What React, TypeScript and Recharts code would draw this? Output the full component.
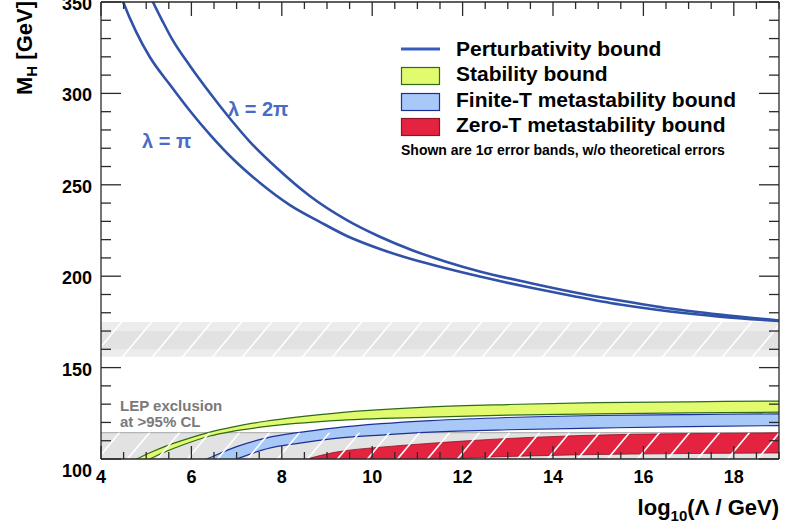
import React from 'react';
import { ComposedChart, Line, Area, XAxis, YAxis, Legend, Customized } from 'recharts';

// ---------- axis ticks ----------
const xTicks = [4, 4.5, 5, 5.5, 6, 6.5, 7, 7.5, 8, 8.5, 9, 9.5, 10, 10.5, 11, 11.5, 12, 12.5, 13, 13.5, 14, 14.5, 15, 15.5, 16, 16.5, 17, 17.5, 18, 18.5, 19];
const xMajor = [4, 6, 8, 10, 12, 14, 16, 18];
const yTicks = [100, 110, 120, 130, 140, 150, 160, 170, 180, 190, 200, 210, 220, 230, 240, 250, 260, 270, 280, 290, 300, 310, 320, 330, 340, 350];
const yMajor = [100, 150, 200, 250, 300, 350];

// ---------- perturbativity bounds ----------
const piX = [4.4, 4.49, 4.77, 5.08, 5.53, 5.97, 6.42, 6.92, 7.52, 8.18, 8.85, 9.44, 10.17, 10.9, 11.65, 12.38, 13.49, 14.49, 15.48, 16.59, 17.69, 19];
const piM = [356, 350, 334.1, 319.9, 304.6, 290.4, 277.2, 264.1, 251, 238.9, 229.6, 222, 214.9, 209.1, 204.2, 199.8, 193.8, 188.9, 184.5, 180.7, 177.9, 175.5];
const twoPiX = [5.05, 5.15, 5.37, 5.57, 5.97, 6.41, 6.79, 7.3, 7.89, 8.62, 9.44, 10.17, 10.9, 11.65, 12.38, 13.49, 14.49, 15.48, 16.59, 17.69, 19];
const twoPiM = [355.5, 350, 339.1, 329.8, 315, 300.2, 288.2, 273.4, 259.2, 243.9, 230.7, 221.6, 214.1, 207.8, 202.6, 196.3, 191.1, 186.7, 182.3, 179, 175.8];

// ---------- stability bound (1 sigma band) ----------
const stabX = [4.6, 4.79, 5.08, 5.45, 5.82, 6.41, 6.93, 7.67, 9.14, 11.3, 13, 14.97, 17, 19];
const stabHigh = [98, 100, 103.4, 107.2, 110.3, 114.7, 117.6, 120.8, 125, 128.5, 129.8, 130.8, 131.3, 131.7];
const stabLow = [94, 96.5, 100, 104.2, 107.8, 112.6, 115.2, 117.8, 121, 122.9, 124, 124.7, 125.2, 125.6];

// ---------- finite-T metastability bound ----------
const finX = [6.1, 6.34, 7, 7.67, 8.4, 9.14, 10.2, 11.3, 13, 14.97, 17, 19];
const finHigh = [97.5, 100, 106.8, 111.6, 114.6, 116.9, 119.3, 121, 122.7, 123.8, 124.3, 124.7];
const finLow = [91, 93.5, 100, 105.6, 108.7, 111.1, 113.1, 114.7, 116, 116.9, 117.7, 118.3];

// ---------- zero-T metastability bound ----------
const zeroX = [8.2, 8.55, 9.14, 10.25, 11.3, 12, 13.49, 15.7, 17.5, 19];
const zeroHigh = [97.5, 100, 103.5, 106.6, 108.6, 109.8, 111.8, 113.5, 114, 114.3];
const zeroLow = [86, 88, 91, 95.5, 98.8, 100.3, 101.7, 102.7, 103.1, 103.3];

// ---------- exclusion regions ----------
const fullX = [4, 19];
const lepRange = [100, 114.4];
const tevOuter = [156, 175];
const tevInner = [160, 170];

const legendLabels = ['Perturbativity bound', 'Stability bound', 'Finite-T metastability bound', 'Zero-T metastability bound'];
const legendNote = 'Shown are 1\u03c3 error bands, w/o theoretical errors';

const FONT = "'Liberation Sans', Arial, Helvetica, sans-serif";
const AXIS = '#2a2a2a';
const LINE_BLUE = '#2f52a8';
const GREEN = '#e1fa6e';
const GREEN_EDGE = '#2f6a1c';
const BLUE = '#a8c9f8';
const BLUE_EDGE = '#1c2f96';
const RED = '#e42341';
const RED_EDGE = '#8c1424';

const pts = (xs: number[], ys: number[]) => xs.map((x, i) => ({ x, m: ys[i] }));
const band = (xs: number[], lo: number[], hi: number[]) => xs.map((x, i) => ({ x, r: [lo[i], hi[i]] }));
const flat = (r: number[]) => fullX.map((x) => ({ x, r: [r[0], r[1]] }));

const renderBottomTick = (props: any) => {
  const x = Number(props.x);
  const y = Number(props.y);
  const v = props.payload.value;
  const major = xMajor.includes(v);
  const len = major ? 13 : 7;
  return (
    <g>
      <path d={`M${x},${y}V${y - len}`} stroke={AXIS} strokeWidth={1.3} fill="none" />
      {major && (
        <text x={x} y={y + 24} textAnchor="middle" fontFamily={FONT} fontWeight="bold" fontSize={18} fill="#000">
          {v}
        </text>
      )}
    </g>
  );
};

const renderTopTick = (props: any) => {
  const x = Number(props.x);
  const y = Number(props.y);
  const len = xMajor.includes(props.payload.value) ? 14 : 7;
  return (
    <g>
      <path d={`M${x},${y}V${y + len}`} stroke={AXIS} strokeWidth={1.3} fill="none" />
    </g>
  );
};

const renderLeftTick = (props: any) => {
  const x = Number(props.x);
  const y = Number(props.y);
  const v = props.payload.value;
  const major = yMajor.includes(v);
  const len = major ? 20 : 10;
  return (
    <g>
      <path d={`M${x},${y}H${x + len}`} stroke={AXIS} strokeWidth={1.3} fill="none" />
      {major && (
        <text x={x - 9} y={y + (v === 100 ? 18 : 8)} textAnchor="end" fontFamily={FONT} fontWeight="bold" fontSize={18} fill="#000">
          {v}
        </text>
      )}
    </g>
  );
};

const renderRightTick = (props: any) => {
  const x = Number(props.x);
  const y = Number(props.y);
  const len = yMajor.includes(props.payload.value) ? 20 : 10;
  return (
    <g>
      <path d={`M${x},${y}H${x - len}`} stroke={AXIS} strokeWidth={1.3} fill="none" />
    </g>
  );
};

const renderLegend = () => (
  <svg width={785} height={170} style={{ display: 'block' }}>
    <line x1={401} x2={440} y1={49} y2={49} stroke="#3a5cc0" strokeWidth={3} />
    <rect x={401.5} y={67.5} width={38} height={17} fill={GREEN} stroke={GREEN_EDGE} strokeWidth={1.2} />
    <rect x={401.5} y={93.5} width={38} height={17} fill={BLUE} stroke={BLUE_EDGE} strokeWidth={1.2} />
    <rect x={401.5} y={118.5} width={38} height={17} fill={RED} stroke={RED_EDGE} strokeWidth={1.2} />
    {legendLabels.map((t, i) => (
      <text key={t} x={456} y={55.5 + i * 25.5} fontFamily={FONT} fontWeight="bold" fontSize={21} fill="#000">
        {t}
      </text>
    ))}
    <text x={401} y={155} fontFamily={FONT} fontWeight="bold" fontSize={14} fill="#000">
      {legendNote}
    </text>
  </svg>
);

const Annotations = () => (
  <g>
    <text x={142} y={148} fontFamily={FONT} fontWeight={600} fontSize={20} fill="#4a6bc5">
      {'\u03bb = \u03c0'}
    </text>
    <text x={228} y={116} fontFamily={FONT} fontWeight={600} fontSize={20} fill="#4a6bc5">
      {'\u03bb = 2\u03c0'}
    </text>
    <text x={762} y={345} textAnchor="end" fontFamily={FONT} fontWeight="bold" fontSize={15} fill="#777">
      Tevatron exclusion at &gt;95% CL
    </text>
    <text x={120} y={410.5} fontFamily={FONT} fontWeight="bold" fontSize={15} fill="#7a7a7a">
      LEP exclusion
    </text>
    <text x={120} y={426.5} fontFamily={FONT} fontWeight="bold" fontSize={15} fill="#7a7a7a">
      at &gt;95% CL
    </text>
    <text transform="translate(32,48) rotate(-90)" textAnchor="middle" fontFamily={FONT} fontWeight="bold" fontSize={22} fill="#000">
      M<tspan fontSize={15} dy={5}>H</tspan>
      <tspan dy={-5}> [GeV]</tspan>
    </text>
    <text x={779} y={515} textAnchor="end" fontFamily={FONT} fontWeight="bold" fontSize={22} fill="#000">
      log<tspan fontSize={15} dy={6}>10</tspan>
      <tspan dy={-6}>({'\u039b'} / GeV)</tspan>
    </text>
  </g>
);

const common = { isAnimationActive: false, dot: false, activeDot: false } as const;

export default function App() {
  return (
    <div style={{ position: 'absolute', left: 0, top: 0, width: 785, height: 529, background: '#fff' }}>
      <ComposedChart width={785} height={529} margin={{ top: 1, right: 5, bottom: 0, left: 0 }}>
        <defs>
          <pattern id="hatch" patternUnits="userSpaceOnUse" width={30} height={36}>
            <path d="M0,36 L30,0 M-30,36 L0,0 M30,36 L60,0" stroke="#ffffff" strokeWidth={1.6} />
          </pattern>
        </defs>
        <XAxis
          dataKey="x"
          type="number"
          domain={[4, 19]}
          ticks={xTicks}
          interval={0}
          height={70}
          tickLine={false}
          tickSize={0}
          tickMargin={0}
          tick={renderBottomTick}
          axisLine={{ stroke: AXIS, strokeWidth: 1.3 }}
        />
        <XAxis
          xAxisId="t"
          orientation="top"
          dataKey="x"
          type="number"
          domain={[4, 19]}
          ticks={xTicks}
          interval={0}
          height={1}
          tickLine={false}
          tickSize={0}
          tickMargin={0}
          tick={renderTopTick}
          axisLine={{ stroke: AXIS, strokeWidth: 1.3 }}
        />
        <YAxis
          type="number"
          domain={[100, 350]}
          ticks={yTicks}
          interval={0}
          allowDataOverflow
          width={101}
          tickLine={false}
          tickSize={0}
          tickMargin={0}
          tick={renderLeftTick}
          axisLine={{ stroke: AXIS, strokeWidth: 1.3 }}
        />
        <YAxis
          yAxisId="r"
          orientation="right"
          type="number"
          domain={[100, 350]}
          ticks={yTicks}
          interval={0}
          allowDataOverflow
          width={1}
          tickLine={false}
          tickSize={0}
          tickMargin={0}
          tick={renderRightTick}
          axisLine={{ stroke: AXIS, strokeWidth: 1.3 }}
        />

        {/* exclusion regions (under the bands) */}
        <Area data={flat(lepRange)} dataKey="r" type="linear" fill="#e2e2e2" fillOpacity={1} stroke="#b4b4b4" strokeWidth={1.2} legendType="none" {...common} />
        <Area data={flat(tevOuter)} dataKey="r" type="linear" fill="#ececec" fillOpacity={1} stroke="none" legendType="none" {...common} />
        <Area data={flat(tevInner)} dataKey="r" type="linear" fill="#e2e2e2" fillOpacity={1} stroke="none" legendType="none" {...common} />
        <Area data={flat(tevOuter)} dataKey="r" type="linear" fill="url(#hatch)" fillOpacity={1} stroke="none" legendType="none" {...common} />

        {/* bands */}
        <Area data={band(stabX, stabLow, stabHigh)} dataKey="r" type="monotone" fill={GREEN} fillOpacity={1} stroke={GREEN_EDGE} strokeWidth={1.2} {...common} />
        <Area data={band(finX, finLow, finHigh)} dataKey="r" type="monotone" fill={BLUE} fillOpacity={1} stroke={BLUE_EDGE} strokeWidth={1.2} {...common} />
        <Area data={band(zeroX, zeroLow, zeroHigh)} dataKey="r" type="monotone" fill={RED} fillOpacity={1} stroke={RED_EDGE} strokeWidth={0.8} {...common} />

        {/* LEP hatching on top of the bands (attached to the top/right frame axes) */}
        <Area xAxisId="t" yAxisId="r" data={flat(lepRange)} dataKey="r" type="linear" fill="url(#hatch)" fillOpacity={1} stroke="none" legendType="none" {...common} />

        {/* perturbativity bounds */}
        <Line data={pts(piX, piM)} dataKey="m" type="monotone" stroke={LINE_BLUE} strokeWidth={2.6} {...common} />
        <Line data={pts(twoPiX, twoPiM)} dataKey="m" type="monotone" stroke={LINE_BLUE} strokeWidth={2.6} {...common} />

        <Customized component={<Annotations />} />
        <Legend
          content={renderLegend}
          layout="vertical"
          align="center"
          verticalAlign="middle"
          wrapperStyle={{ position: 'absolute', left: 0, top: 0, width: 785, height: 170, pointerEvents: 'none' }}
        />
      </ComposedChart>
    </div>
  );
}
